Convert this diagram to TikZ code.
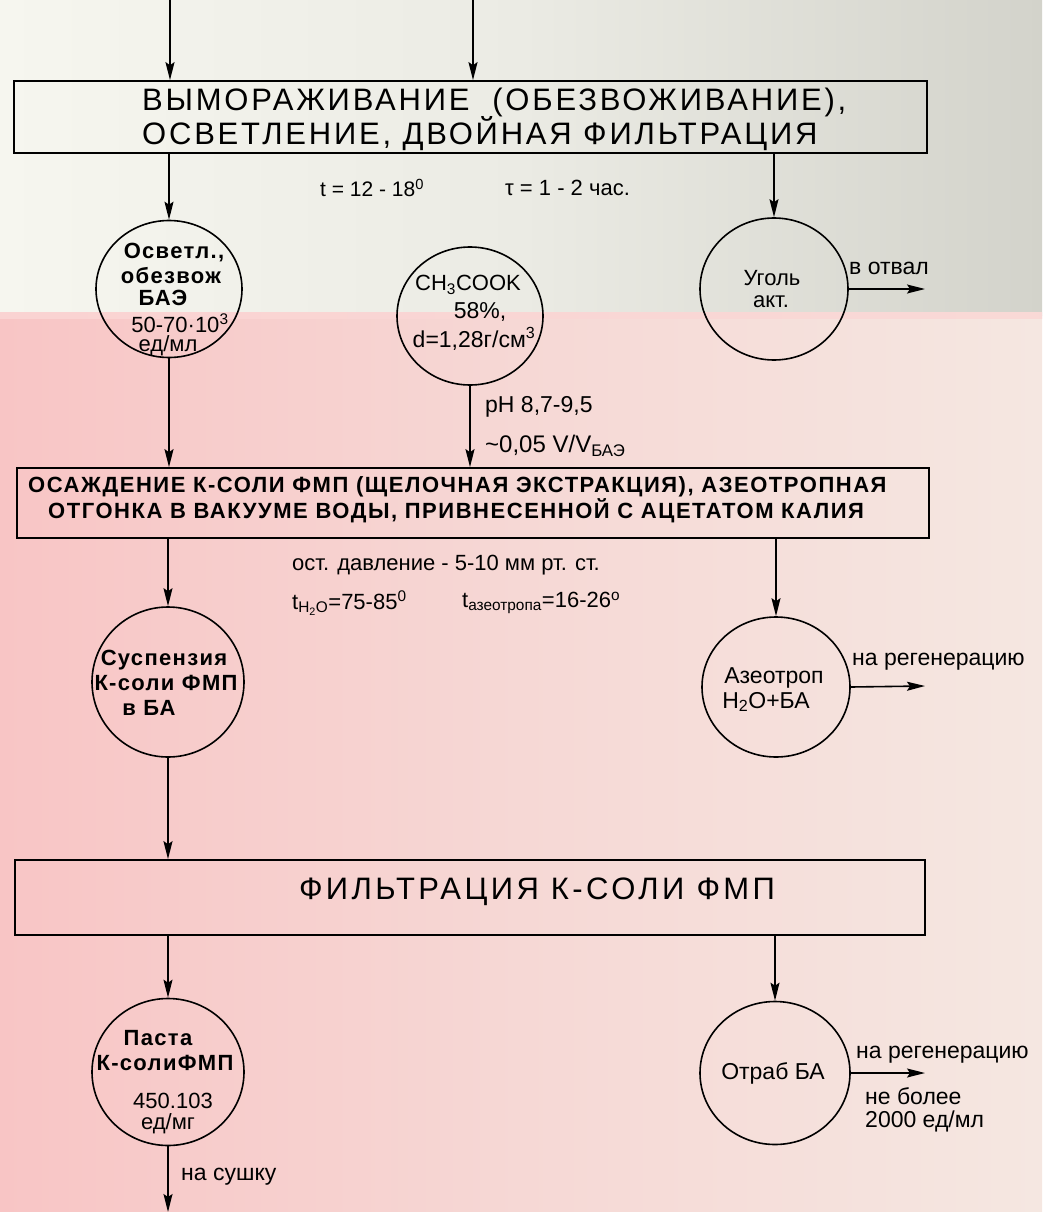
\documentclass[tikz,border=0pt]{standalone}
\usepackage{fontspec}
\setmainfont{Liberation Sans}
\newfontfamily\boxfont[LetterSpace=9]{Liberation Sans}
\newfontfamily\boxfontb[LetterSpace=11]{Liberation Sans}
\newfontfamily\boldsp[LetterSpace=7]{Liberation Sans}
\newfontfamily\circsp[LetterSpace=6]{Liberation Sans}
\usetikzlibrary{arrows.meta,shapes.geometric}
\definecolor{topL}{HTML}{F6F6EF}
\definecolor{topM}{HTML}{EBEBE4}
\definecolor{topR}{HTML}{D3D3CB}
\definecolor{botL}{HTML}{F8C5C5}
\definecolor{botM}{HTML}{F6D8D5}
\definecolor{botR}{HTML}{F5E7E1}
\definecolor{band}{HTML}{FAD3D2}
\begin{document}
\begin{tikzpicture}[x=1pt,y=-1pt,
  arr/.style={-{Stealth[length=18pt,width=9pt,inset=3pt]}, line width=1.6pt},
  bx/.style={draw, line width=1.7pt, inner sep=0},
  circ/.style={ellipse, draw, line width=1.6pt, inner sep=0},
  t/.style={inner sep=0, font=\fontsize{22}{26}\selectfont},
  tw/.style={inner sep=0, anchor=west, font=\fontsize{23}{27}\selectfont},
  cb/.style={inner sep=0, font=\circsp\bfseries\fontsize{22}{26}\selectfont},
  big/.style={inner sep=0, font=\boxfont\fontsize{31}{34}\selectfont},
  bigb/.style={inner sep=0, anchor=west, font=\boldsp\bfseries\fontsize{22}{26}\selectfont}]
\useasboundingbox (0,0) rectangle (1042,1212);
% background
\shade[left color=topL, right color=topR, middle color=topM] (0,0) rectangle (1042,315);
\shade[left color=botL, right color=botR, middle color=botM] (0,315) rectangle (1042,1212);
\shade[left color=band, right color=band!70!botR] (0,312) rectangle (1042,318);

% inputs
\coordinate (in1) at (170,0);
\coordinate (in2) at (473,0);

% box 1
\node[bx, minimum width=913pt, minimum height=72pt] (b1) at (470.5,117) {};
\node[big, anchor=west] (b1a) at (142,102) {ВЫМОРАЖИВАНИЕ\ \ (ОБЕЗВОЖИВАНИЕ),};
\node[big, anchor=west] (b1b) at (142,134) {ОСВЕТЛЕНИЕ, ДВОЙНАЯ ФИЛЬТРАЦИЯ};
\node[tw, font=\fontsize{21}{25}\selectfont] (tt) at (320,188) {t = 12 - 18\textsuperscript{0}};
\node[tw, font=\fontsize{22}{26}\selectfont] (tau) at (505,188) {τ = 1 - 2 час.};

% circles row 1
\node[circ, minimum width=146pt, minimum height=137pt] (c1) at (169,289) {};
\node[circ, minimum width=146pt, minimum height=138pt] (c2) at (470,316) {};
\node[circ, minimum width=148pt, minimum height=142pt] (c3) at (774,289) {};

\node[cb] (c1a) at (174,253) {Осветл.,};
\node[cb] (c1b) at (171,276) {обезвож};
\node[cb] (c1c) at (163,298) {БАЭ};
\node[t] (c1d) at (180,323) {50-70·10\textsuperscript{3}};
\node[t] (c1e) at (168,346) {ед/мл};

\node[t] (c2a) at (468,285) {CH\textsubscript{3}COOK};
\node[t, font=\fontsize{23}{27}\selectfont] (c2b) at (480,312) {58\%,};
\node[t, font=\fontsize{23}{27}\selectfont] (c2c) at (474,339) {d=1,28г/см\textsuperscript{3}};

\node[t] (c3a) at (772,278) {Уголь};
\node[t] (c3b) at (771,302) {акт.};
\node[tw] (c3l) at (849,268) {в отвал};
\coordinate (o3) at (925,289);

\node[tw] (ph) at (485,407) {pH 8,7-9,5};
\node[tw, font=\fontsize{24}{28}\selectfont] (vv) at (485,446) {\textasciitilde 0,05 V/V\textsubscript{БАЭ}};

% box 2
\node[bx, minimum width=912pt, minimum height=70pt] (b2) at (473,503) {};
\node[bigb] (b2a) at (28,487) {ОСАЖДЕНИЕ К-СОЛИ ФМП (ЩЕЛОЧНАЯ ЭКСТРАКЦИЯ), АЗЕОТРОПНАЯ};
\node[bigb] (b2b) at (48,511) {ОТГОНКА В ВАКУУМЕ ВОДЫ, ПРИВНЕСЕННОЙ С АЦЕТАТОМ КАЛИЯ};
\node[tw, font=\fontsize{22}{26}\selectfont] (p1) at (292,565) {ост. давление - 5-10 мм рт. ст.};
\node[tw, font=\fontsize{22}{26}\selectfont] (p2) at (292,603) {t\textsubscript{H\textsubscript{2}O}=75-85\textsuperscript{0}};
\node[tw, font=\fontsize{22}{26}\selectfont] (p3) at (462,603) {t\textsubscript{азеотропа}=16-26\textsuperscript{o}};

% circles row 2
\node[circ, minimum width=152pt, minimum height=150pt] (c4) at (168,682) {};
\node[circ, minimum width=148pt, minimum height=140pt] (c5) at (776,687) {};
\node[cb] (c4a) at (164,660) {Суспензия};
\node[cb] (c4b) at (166,683) {К-соли ФМП};
\node[cb] (c4c) at (149,708) {в БА};
\node[t, font=\fontsize{23}{27}\selectfont] (c5a) at (774,678) {Азеотроп};
\node[t, font=\fontsize{23}{27}\selectfont] (c5b) at (766,702) {H\textsubscript{2}O+БА};
\node[tw] (c5l) at (852,662) {на регенерацию};
\coordinate (o5) at (925,686);

% box 3
\node[bx, minimum width=910pt, minimum height=75pt] (b3) at (470,897.5) {};
\node[inner sep=0, font=\boxfontb\fontsize{31}{34}\selectfont] (b3a) at (537,892) {ФИЛЬТРАЦИЯ К-СОЛИ ФМП};

% circles row 3
\node[circ, minimum width=152pt, minimum height=147pt] (c6) at (168,1072) {};
\node[circ, minimum width=150pt, minimum height=143pt] (c7) at (775,1073) {};
\node[cb] (c6a) at (158,1038) {Паста};
\node[cb] (c6b) at (165,1063) {К-солиФМП};
\node[t] (c6c) at (173,1101) {450.103};
\node[t] (c6d) at (168,1124) {ед/мг};
\node[t, font=\fontsize{23}{27}\selectfont] (c7a) at (773,1073) {Отраб БА};
\node[tw] (c7l) at (856,1055) {на регенерацию};
\node[tw] (c7m) at (865,1096) {не более};
\node[tw] (c7n) at (865,1121) {2000 ед/мл};
\coordinate (o7) at (925,1073);
\coordinate (o6) at (168,1212);
\node[tw] (c6l) at (181,1177) {на сушку};

% connectors
\draw[arr] (in1) -- (in1 |- b1.north);
\draw[arr] (in2) -- (in2 |- b1.north);
\draw[arr] (c1 |- b1.south) -- (c1.north);
\draw[arr] (c3 |- b1.south) -- (c3.north);
\draw[arr] (c3.east) -- (o3);
\draw[arr] (c1.south) -- (c1 |- b2.north);
\draw[arr] (c2.south) -- (c2 |- b2.north);
\draw[arr] (c4 |- b2.south) -- (c4.north);
\draw[arr] (c5 |- b2.south) -- (c5.north);
\draw[arr] (c5.east) -- (o5);
\draw[arr] (c4.south) -- (c4 |- b3.north);
\draw[arr] (c6 |- b3.south) -- (c6.north);
\draw[arr] (c7 |- b3.south) -- (c7.north);
\draw[arr] (c7.east) -- (o7);
\draw[arr] (c6.south) -- (o6);
\end{tikzpicture}
\end{document}
